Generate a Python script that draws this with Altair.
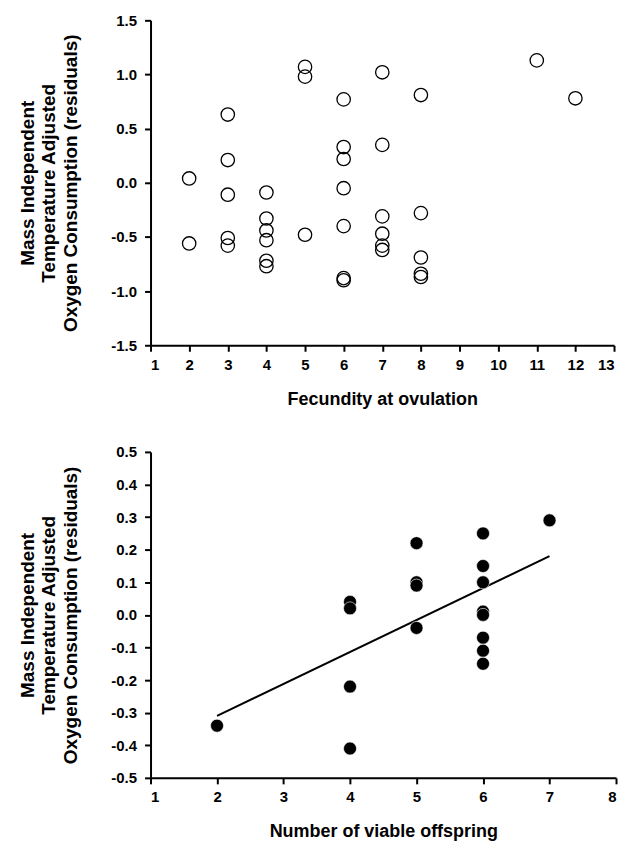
import altair as alt
import pandas as pd

# Top panel: fecundity at ovulation vs residuals (open circles)
top_x = [2, 2, 3, 3, 3, 3, 3, 4, 4, 4, 4, 4, 4, 5, 5, 5, 6, 6, 6, 6, 6, 6, 6,
         7, 7, 7, 7, 7, 7, 8, 8, 8, 8, 8, 11, 12]
top_y = [0.04, -0.56, 0.63, 0.21, -0.11, -0.51, -0.58, -0.09, -0.33, -0.44, -0.53, -0.72, -0.77,
         1.07, 0.98, -0.48, 0.77, 0.33, 0.22, -0.05, -0.40, -0.88, -0.90,
         1.02, 0.35, -0.31, -0.47, -0.58, -0.62, 0.81, -0.28, -0.69, -0.84, -0.87, 1.13, 0.78]

# Bottom panel: number of viable offspring vs residuals (filled circles)
bot_x = [2, 4, 4, 4, 4, 5, 5, 5, 5, 6, 6, 6, 6, 6, 6, 6, 6, 7]
bot_y = [-0.34, 0.04, 0.02, -0.22, -0.41, 0.22, 0.10, 0.09, -0.04,
         0.25, 0.15, 0.10, 0.01, 0.00, -0.07, -0.11, -0.15, 0.29]

# Regression line endpoints
fit_x = [2, 7]
fit_y = [-0.31, 0.18]

top_xticks = list(range(1, 14))
top_yticks = [-1.5, -1.0, -0.5, 0.0, 0.5, 1.0, 1.5]
bot_xticks = list(range(1, 9))
bot_yticks = [-0.5, -0.4, -0.3, -0.2, -0.1, 0.0, 0.1, 0.2, 0.3, 0.4, 0.5]

y_title = ["Mass Independent", "Temperature Adjusted", "Oxygen Consumption (residuals)"]
FONT = "Liberation Sans"

top_df = pd.DataFrame({"x": top_x, "y": top_y})
bot_df = pd.DataFrame({"x": bot_x, "y": bot_y})
fit_df = pd.DataFrame({"x": fit_x, "y": fit_y})

lab_expr = "replace(format(datum.value, '.1f'), '\u2212', '-')"


def yenc(vals, dom):
    return alt.Y("y:Q", scale=alt.Scale(domain=dom, nice=False),
                 axis=alt.Axis(values=vals, labelExpr=lab_expr, title=y_title, titleFontSize=19,
                               titleLineHeight=22, titlePadding=30, labelOverlap=False,
                               labelPadding=8))


def xenc(vals, dom, title):
    return alt.X("x:Q", scale=alt.Scale(domain=dom, nice=False),
                 axis=alt.Axis(values=vals, format="d", title=title, titleFontSize=18,
                               titlePadding=18, labelOverlap=False, labelPadding=6))


top = alt.Chart(top_df).mark_point(shape="circle", filled=False, size=180, color="black",
                                   strokeWidth=1.3, opacity=1).encode(
    x=xenc(top_xticks, [1, 13], "Fecundity at ovulation"),
    y=yenc(top_yticks, [-1.5, 1.5]),
).properties(width=465, height=326)

bx = xenc(bot_xticks, [1, 8], "Number of viable offspring")
by = yenc(bot_yticks, [-0.5, 0.5])
bot_pts = alt.Chart(bot_df).mark_circle(size=170, color="black", opacity=1,
                                        stroke="white", strokeWidth=0.6).encode(x=bx, y=by)
bot_line = alt.Chart(fit_df).mark_line(color="black", strokeWidth=2).encode(x=bx, y=by)
bottom = alt.layer(bot_line, bot_pts).properties(width=467, height=327)

chart = alt.vconcat(top, bottom, spacing=37).properties(
    padding={"left": 10, "top": 4, "right": 5, "bottom": 0},
    background="white",
).configure_view(stroke=None).configure_axis(
    grid=False,
    domainColor="black", domainWidth=2,
    tickColor="black", tickWidth=2, tickSize=6,
    labelFont=FONT, labelFontSize=15, labelFontWeight="bold", labelColor="black",
    titleFont=FONT, titleFontWeight="bold", titleColor="black",
)

chart.save("out.html", embed_options={"renderer": "svg", "actions": False})
